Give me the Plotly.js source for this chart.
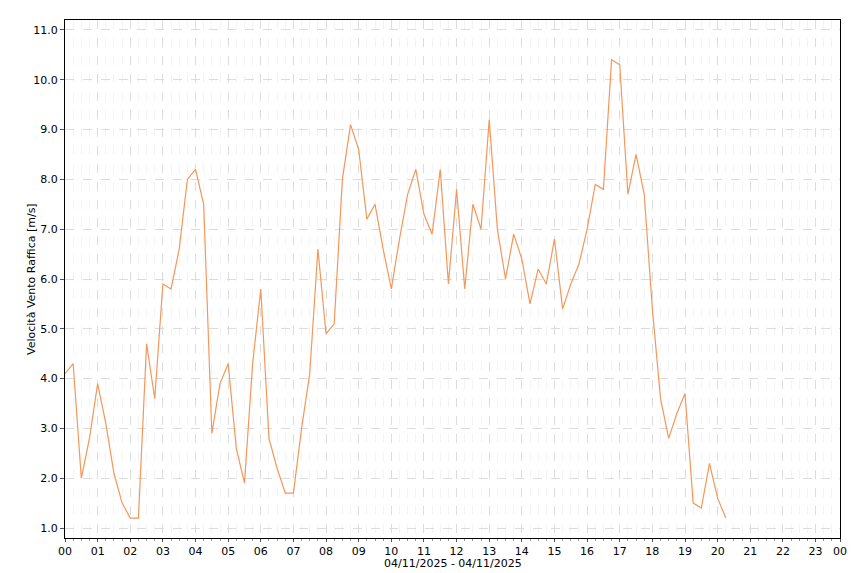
<!DOCTYPE html>
<html>
<head>
<meta charset="utf-8">
<script src="https://cdn.plot.ly/plotly-3.0.1.min.js"></script>
<style>html,body{margin:0;padding:0;background:#fff;}#chart{width:860px;height:573px;}</style>
</head>
<body>
<div id="chart"></div>
<script>
// Time of day in hours (15-minute steps, 00:00 .. 20:15)
const hours = [
  0, 0.25, 0.5, 0.75, 1, 1.25, 1.5, 1.75, 2, 2.25, 2.5, 2.75,
  3, 3.25, 3.5, 3.75, 4, 4.25, 4.5, 4.75, 5, 5.25, 5.5, 5.75,
  6, 6.25, 6.5, 6.75, 7, 7.25, 7.5, 7.75, 8, 8.25, 8.5, 8.75,
  9, 9.25, 9.5, 9.75, 10, 10.25, 10.5, 10.75, 11, 11.25, 11.5, 11.75,
  12, 12.25, 12.5, 12.75, 13, 13.25, 13.5, 13.75, 14, 14.25, 14.5, 14.75,
  15, 15.25, 15.5, 15.75, 16, 16.25, 16.5, 16.75, 17, 17.25, 17.5, 17.75,
  18, 18.25, 18.5, 18.75, 19, 19.25, 19.5, 19.75, 20, 20.25
];
// Velocità Vento Raffica [m/s]
const gust = [
  4.1, 4.3, 2.0, 2.8, 3.9, 3.1, 2.1, 1.5, 1.2, 1.2, 4.7, 3.6,
  5.9, 5.8, 6.6, 8.0, 8.2, 7.5, 2.9, 3.9, 4.3, 2.6, 1.9, 4.3,
  5.8, 2.8, 2.2, 1.7, 1.7, 3.0, 4.1, 6.6, 4.9, 5.1, 8.0, 9.1,
  8.6, 7.2, 7.5, 6.6, 5.8, 6.8, 7.7, 8.2, 7.3, 6.9, 8.2, 5.9,
  7.8, 5.8, 7.5, 7.0, 9.2, 7.0, 6.0, 6.9, 6.4, 5.5, 6.2, 5.9,
  6.8, 5.4, 5.9, 6.3, 7.0, 7.9, 7.8, 10.4, 10.3, 7.7, 8.5, 7.7,
  5.4, 3.6, 2.8, 3.3, 3.7, 1.5, 1.4, 2.3, 1.6, 1.2
];
const xTickVals = [0,1,2,3,4,5,6,7,8,9,10,11,12,13,14,15,16,17,18,19,20,21,22,23,23.75];
const xTickText = ["00","01","02","03","04","05","06","07","08","09","10","11","12","13","14","15","16","17","18","19","20","21","22","23","00"];
const yTickVals = [1,2,3,4,5,6,7,8,9,10,11];
const xTitle = '04/11/2025 - 04/11/2025';
const yTitle = 'Velocità Vento Raffica [m/s]';

const trace = {
  x: hours, y: gust, type: 'scatter', mode: 'lines',
  line: {color: '#F4975A', width: 1.2},
  hoverinfo: 'skip'
};
const layout = {
  width: 860, height: 573,
  margin: {l: 65, r: 20, t: 20, b: 35},
  paper_bgcolor: '#ffffff', plot_bgcolor: '#ffffff',
  font: {family: 'DejaVu Sans, sans-serif', size: 11, color: '#000'},
  showlegend: false,
  xaxis: {
    range: [0, 23.75], tickmode: 'array', tickvals: xTickVals, ticktext: xTickText,
    ticks: 'outside', ticklen: 3, tickcolor: '#555', tickfont: {size: 11},
    showline: true, linecolor: '#000', linewidth: 1, mirror: true,
    showgrid: true, gridcolor: '#dcdcdc', griddash: 'dash', gridwidth: 1,
    zeroline: false,
    minor: {dtick: 0.25, tick0: 0, ticks: 'outside', ticklen: 2, tickcolor: '#999',
            showgrid: true, gridcolor: '#f3f3f3', griddash: 'dash', gridwidth: 1}
  },
  yaxis: {
    range: [0.8, 11.2], tickmode: 'array', tickvals: yTickVals, tickformat: '.1f',
    ticks: 'outside', ticklen: 4, tickcolor: '#555', tickfont: {size: 11},
    showline: true, linecolor: '#000', linewidth: 1, mirror: true,
    showgrid: true, gridcolor: '#dcdcdc', griddash: 'dash', gridwidth: 1,
    zeroline: false
  },
  annotations: [
    {text: xTitle, xref: 'paper', yref: 'paper', x: 0.5, y: -0.05,
     xanchor: 'center', yanchor: 'middle', showarrow: false, font: {size: 11}},
    {text: yTitle, xref: 'paper', yref: 'paper', x: -0.0439, y: 0.5, textangle: -90,
     xanchor: 'center', yanchor: 'middle', showarrow: false, font: {size: 11}}
  ]
};
Plotly.newPlot('chart', [trace], layout, {staticPlot: true, displayModeBar: false});
</script>
</body>
</html>
